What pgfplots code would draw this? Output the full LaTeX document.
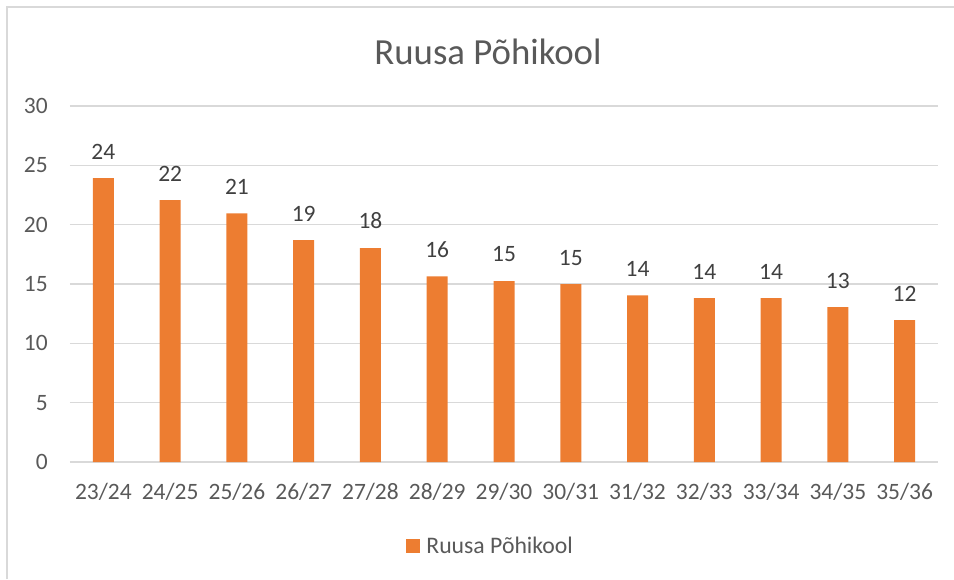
\documentclass[border=0pt]{standalone}
\usepackage{pgfplots}
\pgfplotsset{compat=1.18}
\usepackage{fontspec}
\setmainfont{Carlito}
\definecolor{barorange}{HTML}{ED7D31}
\definecolor{gridgray}{HTML}{D9D9D9}
\definecolor{txtgray}{HTML}{595959}
\definecolor{lblgray}{HTML}{404040}
\begin{document}
\begin{tikzpicture}
\useasboundingbox (0pt,0pt) rectangle (715.5pt,434.25pt);
\draw[gridgray, line width=1.1pt] (5.25pt,0pt) -- (5.25pt,429pt) -- (715.5pt,429pt);
\node[text=txtgray, font=\fontsize{27.6}{33}\selectfont] at (366pt,395.25pt) {Ruusa Põhikool};
\begin{axis}[
  at={(52.5pt,87.75pt)}, anchor=south west,
  scale only axis, width=651pt, height=267pt,
  ybar, bar width=15.75pt,
  xmin=-0.5, xmax=12.5, ymin=0, ymax=30,
  ytick={0,5,...,30},
  xtick=data,
  xticklabels={23/24,24/25,25/26,26/27,27/28,28/29,29/30,30/31,31/32,32/33,33/34,34/35,35/36},
  axis line style={draw=none},
  major tick length=0pt,
  ymajorgrids, grid style={gridgray, line width=1.2pt},
  /pgf/number format/assume math mode=true,
  tick label style={text=txtgray, font=\fontsize{17.6}{21}\selectfont},
  xticklabel style={anchor=north, inner sep=0pt, yshift=-15.75pt},
  yticklabel style={anchor=east, inner sep=0pt, xshift=-16.5pt},
  nodes near coords={\pgfmathprintnumber[fixed,precision=0,assume math mode=true]{\pgfplotspointmeta}},
  every node near coord/.append style={anchor=south, inner sep=0pt, yshift=14pt, text=lblgray, font=\fontsize{17.6}{21}\selectfont},
  legend style={at={(0.485,-0.236)}, anchor=center, draw=none, fill=none,
    font=\fontsize{17.8}{21}\selectfont, text=txtgray, inner sep=0pt},
  legend image code/.code={\fill[barorange] (0pt,-5.25pt) rectangle (10.5pt,5.25pt); \path (13pt,0pt);},
]
\addplot[fill=barorange, draw=none] coordinates {
(0,23.93) (1,22.07) (2,20.95) (3,18.7) (4,18.03) (5,15.65) (6,15.25) (7,14.98) (8,14.05) (9,13.8) (10,13.8) (11,13.05) (12,11.95)
};
\legend{Ruusa Põhikool}
\end{axis}
\end{tikzpicture}
\end{document}
